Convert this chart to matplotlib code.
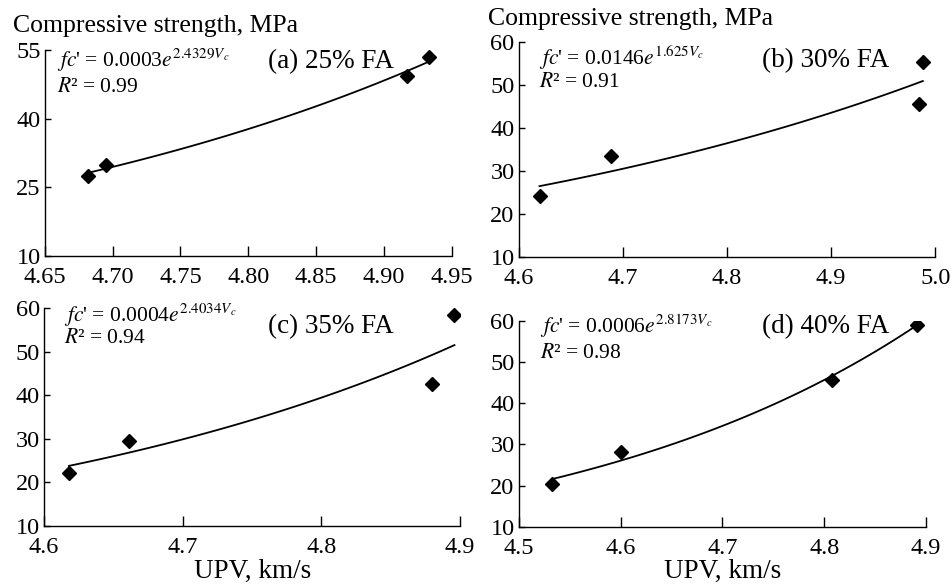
import numpy as np
import matplotlib
matplotlib.use("Agg")
import matplotlib.pyplot as plt

plt.rcParams['font.family'] = ['Liberation Serif', 'DejaVu Serif']
plt.rcParams['mathtext.fontset'] = 'stix'

# UPV (km/s) and compressive strength (MPa)
upv_25 = [4.682, 4.695, 4.917, 4.933]
fc_25 = [27.5, 29.9, 49.3, 53.5]
upv_30 = [4.620, 4.689, 4.984, 4.988]
fc_30 = [24.1, 33.6, 45.5, 55.4]
upv_35 = [4.618, 4.661, 4.880, 4.896]
fc_35 = [22.1, 29.6, 42.5, 58.4]
upv_40 = [4.533, 4.600, 4.808, 4.891]
fc_40 = [20.4, 28.1, 45.7, 59.1]

panel_labels = ['(a) 25% FA', '(b) 30% FA', '(c) 35% FA', '(d) 40% FA']
equations = [r"$fc$' = 0.0003$e^{2.4329V_c}$", r"$fc$' = 0.0146$e^{1.625V_c}$",
             r"$fc$' = 0.0004$e^{2.4034V_c}$", r"$fc$' = 0.0006$e^{2.8173V_c}$"]
r2_labels = [r"$R$² = 0.99", r"$R$² = 0.91", r"$R$² = 0.94", r"$R$² = 0.98"]

W, H = 953, 586
fig = plt.figure(figsize=(W / 100, H / 100), dpi=100)


def rect(l, t, r, b):
    return [l / W, 1 - b / H, (r - l) / W, (b - t) / H]


def ftext(x, y, s, **kw):
    fig.text(x / W, 1 - y / H, s, va='baseline', ha=kw.pop('ha', 'left'), **kw)


panels = [
    (rect(44.7, 50, 452, 256), upv_25, fc_25, (4.65, 4.95), np.arange(4.65, 4.951, 0.05), '%.2f', (10, 55), [10, 25, 40, 55]),
    (rect(518.7, 42.3, 935.3, 256.7), upv_30, fc_30, (4.6, 5.0), np.arange(4.6, 5.01, 0.1), '%.1f', (10, 60), range(10, 61, 10)),
    (rect(44, 308.3, 460, 526), upv_35, fc_35, (4.6, 4.9), np.arange(4.6, 4.91, 0.1), '%.1f', (10, 60), range(10, 61, 10)),
    (rect(518.7, 321, 926, 526.7), upv_40, fc_40, (4.5, 4.9), np.arange(4.5, 4.91, 0.1), '%.1f', (10, 60), range(10, 61, 10)),
]

for pos, x, y, xlim, xt, fmt, ylim, yt in panels:
    ax = fig.add_axes(pos)
    x = np.array(x)
    y = np.array(y)
    # exponential trendline fitted to the points
    b, lna = np.polyfit(x, np.log(y), 1)
    xs = np.linspace(x.min(), x.max(), 100)
    ax.plot(xs, np.exp(lna + b * xs), color='black', lw=1.3)
    ax.plot(x, y, 'D', color='black', markersize=7)
    ax.set_xlim(*xlim)
    ax.set_ylim(*ylim)
    ax.set_xticks(xt)
    ax.set_xticklabels([fmt % v for v in xt])
    ax.set_yticks(list(yt))
    for s in ['top', 'right']:
        ax.spines[s].set_visible(False)
    for s in ['left', 'bottom']:
        ax.spines[s].set_linewidth(1.0)
    ax.tick_params(axis='x', direction='in', length=7, width=1.0, labelsize=17.5, pad=8)
    ax.tick_params(axis='y', direction='in', length=4, width=1.0, labelsize=17.5, pad=3)

ftext(13, 31.7, 'Compressive strength, MPa', fontsize=18.5)
ftext(487.7, 25, 'Compressive strength, MPa', fontsize=18.5)

eq_pos = [(56.7, 66.7, 91.7), (539.3, 65, 87.3), (64, 321.7, 343.3), (540.3, 333.3, 358.3)]
lab_pos = [(268, 67.7), (762, 66.7), (268, 333.3), (762, 333.3)]
for i in range(4):
    ex, ey, ry = eq_pos[i]
    ftext(ex, ey, equations[i], fontsize=15.5)
    ftext(ex, ry, r2_labels[i], fontsize=15.5)
    ftext(lab_pos[i][0], lab_pos[i][1], panel_labels[i], fontsize=19.5)

ftext(253, 578, 'UPV, km/s', fontsize=19.5, ha='center')
ftext(722.7, 578, 'UPV, km/s', fontsize=19.5, ha='center')

fig.savefig('out.png', dpi=100)
